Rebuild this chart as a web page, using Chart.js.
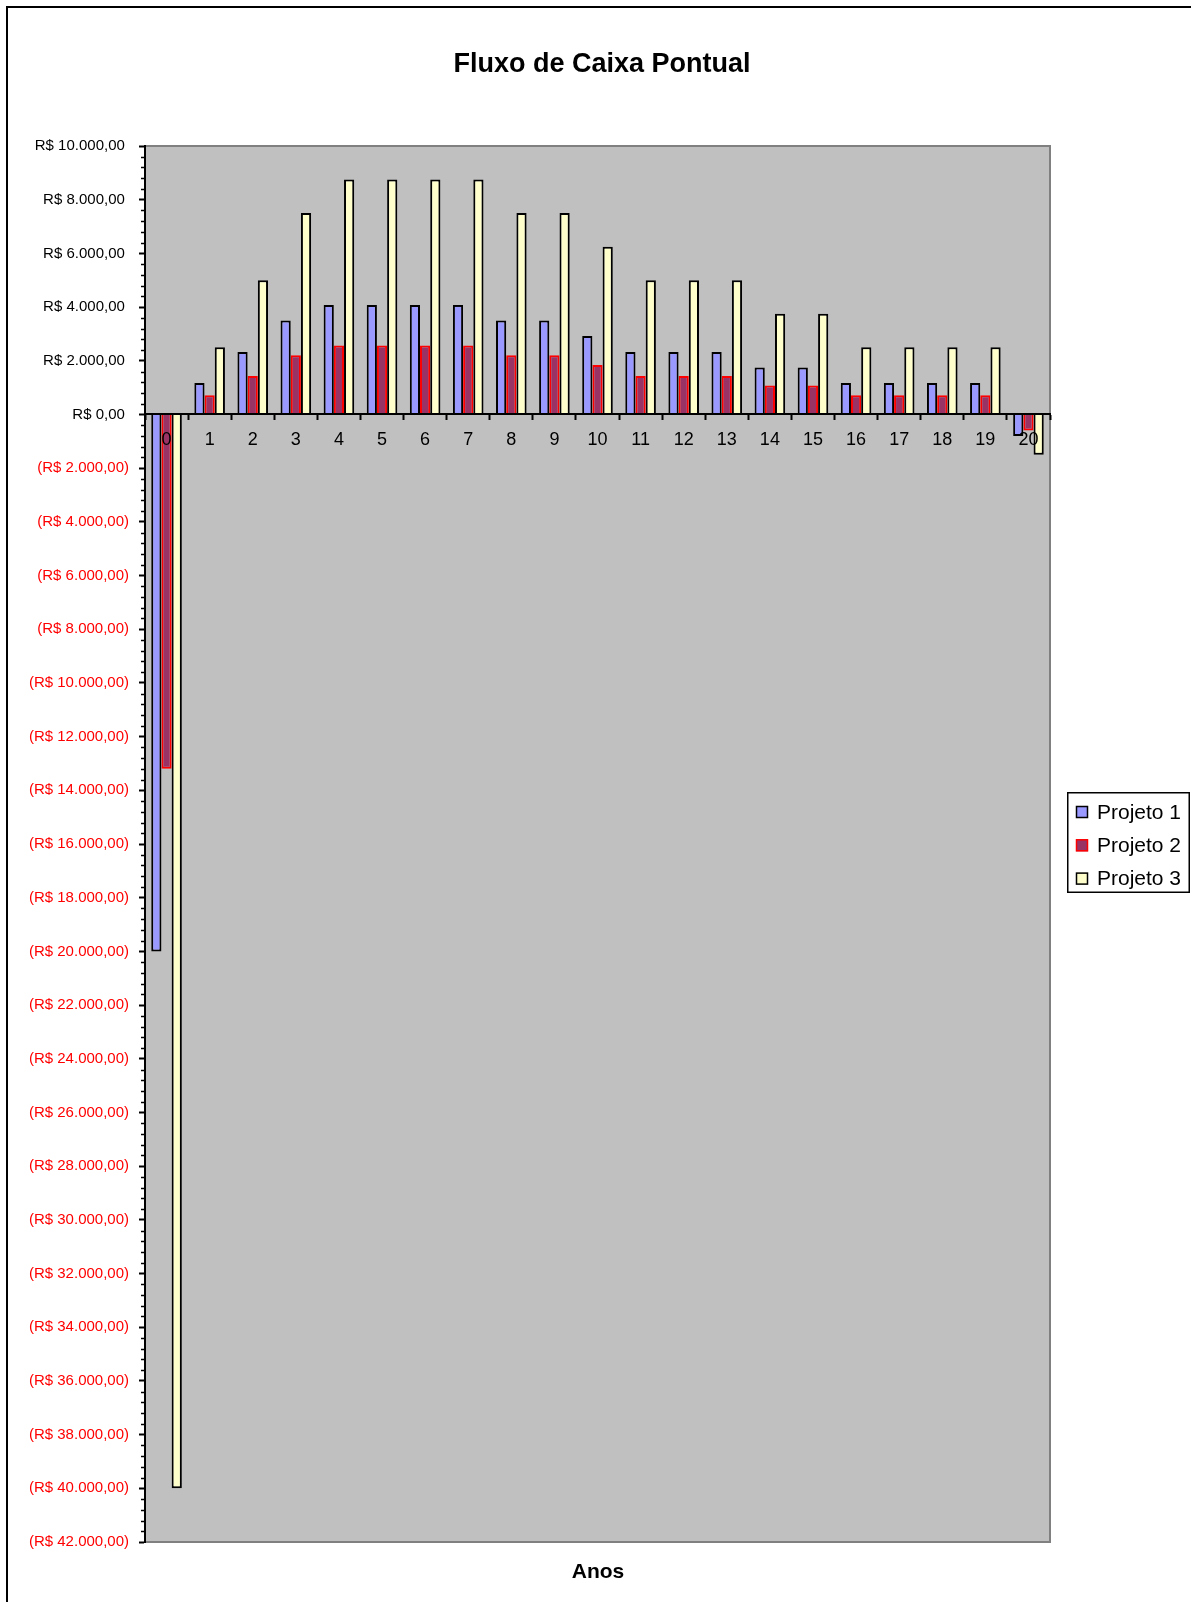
<!DOCTYPE html>
<html lang="pt-BR">
<head>
<meta charset="utf-8">
<title>Fluxo de Caixa Pontual</title>
<script src="https://cdn.jsdelivr.net/npm/chart.js@4.4.1/dist/chart.umd.min.js"></script>
<style>
  html, body { margin: 0; padding: 0; background: #ffffff; }
  #wrap { position: relative; width: 1191px; height: 1602px; overflow: hidden; }
  canvas { display: block; }
</style>
</head>
<body>
<div id="wrap"><canvas id="fluxo" width="1191" height="1602"></canvas></div>
<script>
// Anos do horizonte de análise
const anos = ['0','1','2','3','4','5','6','7','8','9','10','11','12','13','14','15','16','17','18','19','20'];

// Fluxo de caixa de cada projeto (R$)
const projeto1 = [-20000, 1170, 2330, 3500, 4080, 4080, 4080, 4080, 3500, 3500, 2920, 2330, 2330, 2330, 1750, 1750, 1170, 1170, 1170, 1170, -800];
const projeto2 = [-13200, 720, 1430, 2210, 2570, 2570, 2570, 2570, 2210, 2210, 1840, 1430, 1430, 1430, 1080, 1080, 720, 720, 720, 720, -600];
const projeto3 = [-40000, 2500, 5000, 7500, 8750, 8750, 8750, 8750, 7500, 7500, 6250, 5000, 5000, 5000, 3750, 3750, 2500, 2500, 2500, 2500, -1500];

const nomesProjetos = ['Projeto 1', 'Projeto 2', 'Projeto 3'];

// Limites e divisões do eixo de valores
const eixoMin = -42000;
const eixoMax = 10000;
const passoPrincipal = 2000;
const passoSecundario = 400;

const FONTE = '"Liberation Sans", Arial, Helvetica, sans-serif';

function moeda(v) {
  const partes = Math.abs(v).toFixed(2).split('.');
  const inteiro = partes[0].replace(/\B(?=(\d{3})+(?!\d))/g, '.');
  const txt = 'R$ ' + inteiro + ',' + partes[1];
  // valores positivos reservam o espaço do parêntese de fechamento
  return v < 0 ? '(' + txt + ')' : txt + ' ';
}

// Fundo da área de plotagem e moldura do gráfico
const fundo = {
  id: 'fundo',
  beforeDraw(chart) {
    const { ctx, chartArea: a, width, height } = chart;
    ctx.save();
    ctx.fillStyle = '#ffffff';
    ctx.fillRect(0, 0, width, height);
    ctx.fillStyle = '#000000';
    ctx.fillRect(6, 6, width - 6, 2);
    ctx.fillRect(6, 6, 2, height - 6);
    ctx.fillStyle = '#C0C0C0';
    ctx.fillRect(a.left, a.top, a.right - a.left, a.bottom - a.top);
    ctx.strokeStyle = '#808080';
    ctx.lineWidth = 2;
    ctx.strokeRect(a.left, a.top, a.right - a.left, a.bottom - a.top);
    ctx.restore();
  }
};

// Marcas secundárias do eixo de valores
const marcasSecundarias = {
  id: 'marcasSecundarias',
  afterDraw(chart) {
    const { ctx, chartArea: a } = chart;
    const y = chart.scales.y;
    ctx.save();
    ctx.strokeStyle = '#000000';
    ctx.lineWidth = 1.5;
    for (let v = eixoMin; v <= eixoMax; v += passoSecundario) {
      if (v % passoPrincipal === 0) continue;
      const py = Math.round(y.getPixelForValue(v)) + 0.5;
      ctx.beginPath();
      ctx.moveTo(a.left - 4, py);
      ctx.lineTo(a.left, py);
      ctx.stroke();
    }
    ctx.restore();
  }
};

// Título, nome do eixo e legenda
const textos = {
  id: 'textos',
  afterDraw(chart) {
    const { ctx } = chart;
    ctx.save();
    ctx.fillStyle = '#000000';
    ctx.textAlign = 'center';
    ctx.textBaseline = 'middle';
    ctx.font = 'bold 27px ' + FONTE;
    ctx.fillText('Fluxo de Caixa Pontual', 602, 65);
    ctx.font = 'bold 21px ' + FONTE;
    ctx.fillText('Anos', 598, 1572);

    // legenda
    const lx = 1067, ly = 792, lw = 123, lh = 101;
    ctx.fillStyle = '#ffffff';
    ctx.fillRect(lx, ly, lw, lh);
    ctx.strokeStyle = '#000000';
    ctx.lineWidth = 1.5;
    ctx.strokeRect(lx + 0.75, ly + 0.75, lw - 1.5, lh - 1.5);
    ctx.font = '21px ' + FONTE;
    ctx.textAlign = 'left';
    chart.data.datasets.forEach((ds, i) => {
      const cy = 812 + i * 33.3;
      ctx.fillStyle = ds.backgroundColor;
      ctx.fillRect(1076, cy - 6, 12, 12);
      ctx.strokeStyle = ds.borderColor;
      ctx.lineWidth = 1.5;
      ctx.strokeRect(1076.5, cy - 5.5, 11, 11);
      ctx.fillStyle = '#000000';
      ctx.fillText(ds.label, 1097, cy + 1);
    });
    ctx.restore();
  }
};

const series = [projeto1, projeto2, projeto3];
const preenchimentos = ['#9999FF', '#993366', '#FFFFCC'];
const contornos = ['#000000', '#FF0000', '#000000'];

new Chart(document.getElementById('fluxo'), {
  type: 'bar',
  data: {
    labels: anos,
    datasets: series.map((dados, i) => ({
      label: nomesProjetos[i],
      data: dados,
      backgroundColor: preenchimentos[i],
      borderColor: contornos[i],
      borderWidth: 2,
      categoryPercentage: 0.71,
      barPercentage: 1.0
    }))
  },
  options: {
    responsive: false,
    animation: false,
    devicePixelRatio: 1,
    layout: { padding: { top: 146, right: 141, bottom: 60, left: 0 } },
    plugins: {
      legend: { display: false },
      tooltip: { enabled: false },
      title: { display: false }
    },
    scales: {
      x: {
        type: 'category',
        position: { y: 0 },
        offset: true,
        grid: {
          offset: true,
          drawOnChartArea: false,
          drawTicks: true,
          tickLength: 5,
          tickColor: '#000000',
          tickWidth: 2,
          z: 1
        },
        border: { display: true, color: '#000000', width: 2, z: 1 },
        ticks: {
          color: '#000000',
          font: { family: FONTE, size: 18 },
          padding: 10,
          autoSkip: false,
          maxRotation: 0,
          z: 1
        }
      },
      y: {
        min: eixoMin,
        max: eixoMax,
        afterFit(scale) { scale.width = 145; },
        grid: {
          drawOnChartArea: false,
          drawTicks: true,
          tickLength: 6,
          tickColor: '#000000',
          tickWidth: 2
        },
        border: { display: true, color: '#000000', width: 2 },
        ticks: {
          stepSize: passoPrincipal,
          autoSkip: false,
          padding: 10,
          font: { family: FONTE, size: 15 },
          color: (ctx) => (ctx.tick && ctx.tick.value < 0 ? '#FF0000' : '#000000'),
          callback: (v) => moeda(v)
        }
      }
    }
  },
  plugins: [fundo, marcasSecundarias, textos]
});
</script>
</body>
</html>
